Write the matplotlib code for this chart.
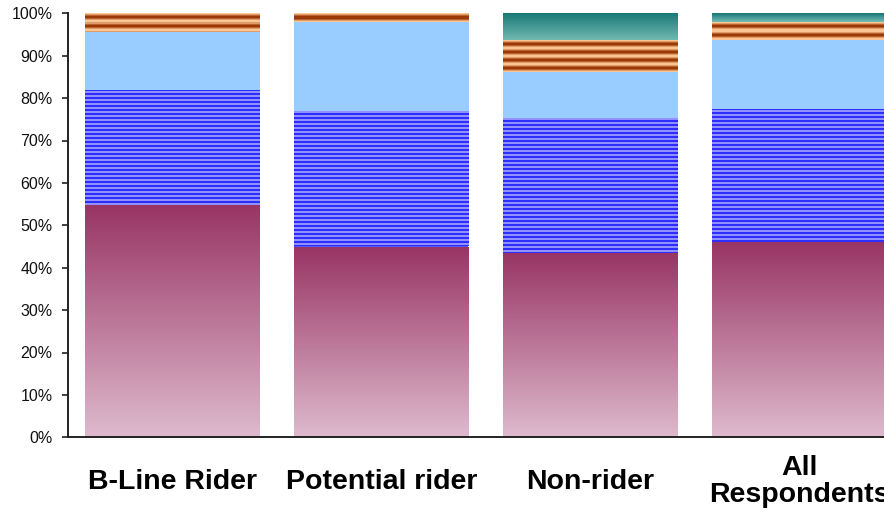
import numpy as np
import matplotlib
matplotlib.use("Agg")
import matplotlib.pyplot as plt
from matplotlib.ticker import FuncFormatter

plt.rcParams['font.family'] = ['Liberation Sans', 'DejaVu Sans']

categories = ["B-Line Rider", "Potential rider", "Non-rider", "All\nRespondents"]
share_1 = [54.8, 45.0, 43.4, 46.1]
share_2 = [27.1, 32.0, 32.0, 31.3]
share_3 = [13.8, 21.0, 10.8, 16.4]
share_4 = [4.3, 2.0, 7.5, 4.1]
share_5 = [0.0, 0.0, 6.3, 2.1]
y_ticks = [0, 10, 20, 30, 40, 50, 60, 70, 80, 90, 100]

series = [share_1, share_2, share_3, share_4, share_5]

W, H, DPI = 884, 517, 100
fig = plt.figure(figsize=(W / DPI, H / DPI), dpi=DPI)
ax = fig.add_axes([68 / W, (H - 437.3) / H, (W - 68) / W, (437.3 - 13.3) / H])

x = np.arange(len(categories))
bar_w = 0.833
xlim = (-0.5, 3.406)
ax.set_xlim(*xlim)
ax.set_ylim(0, 100)


def rgb(*c):
    return np.array(c, dtype=float) / 255.0


# fill styles for each stacked segment
def vertical_gradient(top, bottom):
    def fill(n):
        t = np.linspace(0, 1, n)[:, None]
        return top * (1 - t) + bottom * t
    return fill


def stripes(dark, light, period, phase=0.0):
    def fill(n):
        i = np.arange(n)[:, None] + 0.5
        t = 0.5 - 0.5 * np.cos(2 * np.pi * (i / period) + phase)
        return dark * (1 - t) + light * t
    return fill


def solid(color):
    def fill(n):
        return np.tile(color, (n, 1))
    return fill


styles = [
    vertical_gradient(rgb(152, 52, 100), rgb(222, 186, 205)),
    stripes(rgb(25, 25, 255), rgb(165, 165, 255), 4.0),
    solid(rgb(153, 204, 255)),
    stripes(rgb(153, 51, 0), rgb(255, 204, 153), 8.0, phase=np.pi),
    vertical_gradient(rgb(26, 122, 120), rgb(112, 184, 176)),
]
base_colors = ['#B66C8E', '#5555FF', '#99CCFF', '#CC8050', '#3F9A94']

bottom = np.zeros(len(categories))
for vals, fill, base in zip(series, styles, base_colors):
    vals = np.asarray(vals, dtype=float)
    bars = ax.bar(x, vals, bar_w, bottom=bottom, color=base, linewidth=0, zorder=2)
    for rect, v, b in zip(bars, vals, bottom):
        if v <= 0:
            continue
        y0 = ax.transData.transform((0, b))[1]
        y1 = ax.transData.transform((0, b + v))[1]
        n = max(1, int(round(y1 - y0)))
        img = fill(n)[:, None, :]
        im = ax.imshow(img, extent=(rect.get_x(), rect.get_x() + rect.get_width(), b, b + v),
                       origin='upper', aspect='auto', interpolation='nearest', zorder=3)
        im.set_clip_path(rect)
    bottom = bottom + vals

ax.set_xlim(*xlim)
ax.set_ylim(0, 100)

for side in ('top', 'right'):
    ax.spines[side].set_visible(False)
for side in ('left', 'bottom'):
    ax.spines[side].set_color('#222222')
    ax.spines[side].set_linewidth(1.4)
ax.spines['bottom'].set_zorder(5)

ax.set_yticks(y_ticks)
ax.yaxis.set_major_formatter(FuncFormatter(lambda v, p: f"{v:.0f}%"))
ax.tick_params(axis='y', length=4, width=1.2, color='#222222', pad=7,
               labelsize=11.5, labelcolor='#111111', direction='out')

ax.set_xticks(x)
ax.set_xticklabels(categories, fontsize=20.5, fontweight='bold', color='black')
ax.tick_params(axis='x', length=0, pad=32)
for lab in ax.get_xticklabels():
    lab.set_va('center')
    lab.set_multialignment('center')
    lab.set_linespacing(1.05)

fig.savefig("out.png", dpi=DPI)
